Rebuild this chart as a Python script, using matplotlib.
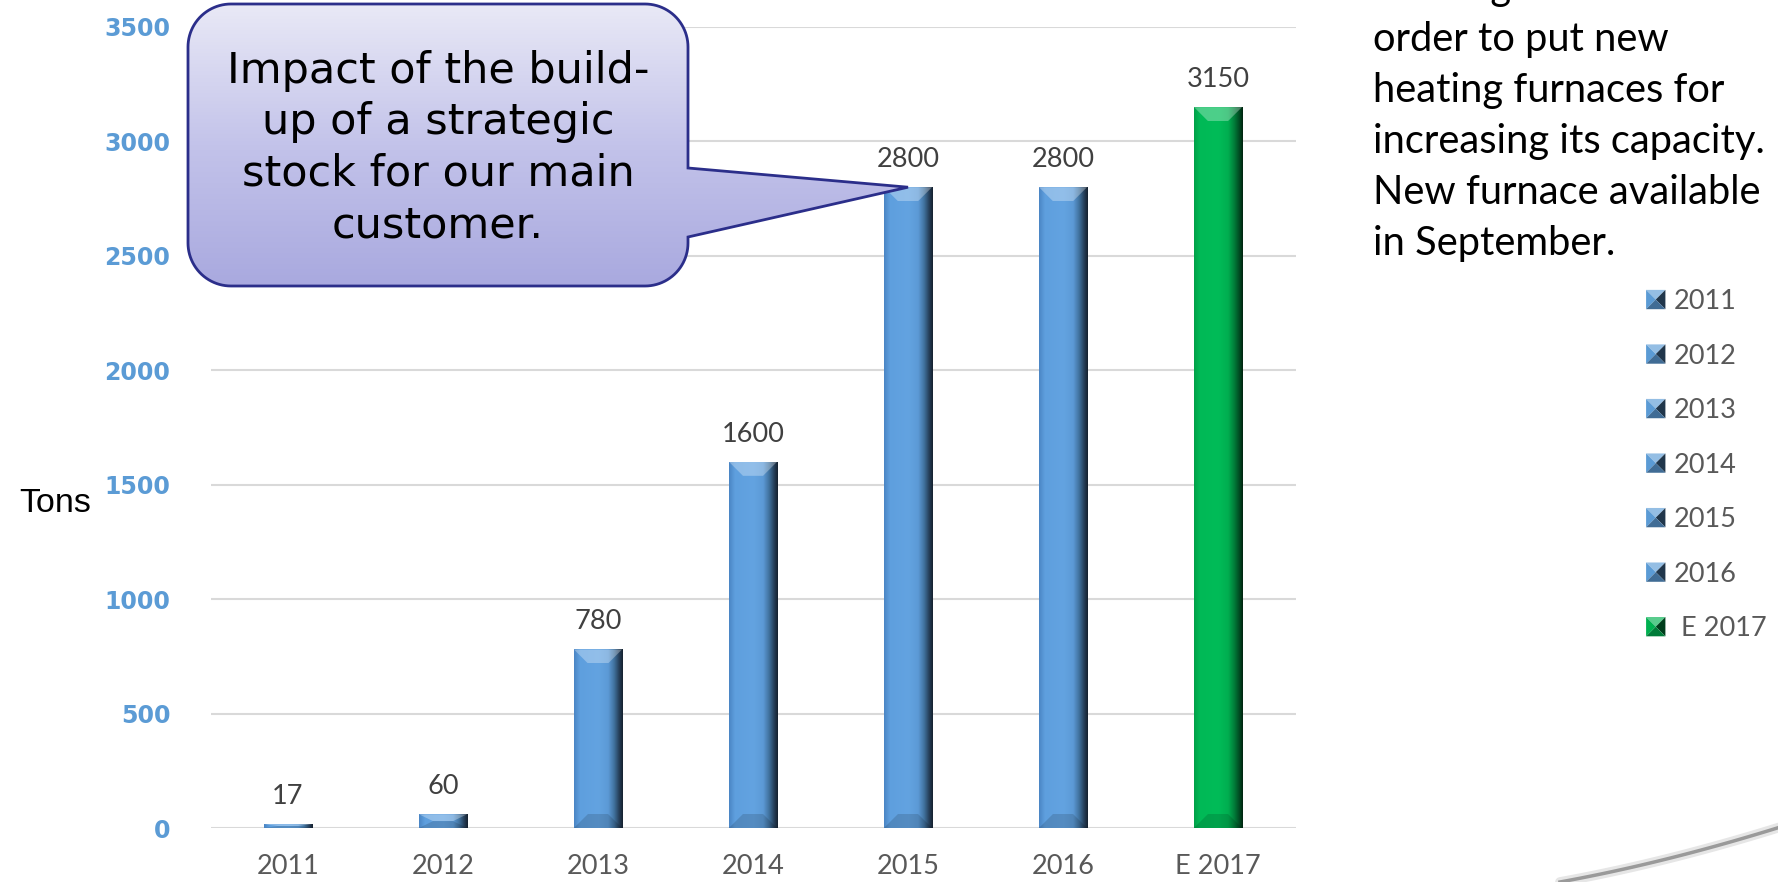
import numpy as np
import matplotlib
matplotlib.use('Agg')
import matplotlib.pyplot as plt
from matplotlib.colors import LinearSegmentedColormap, to_rgb
from matplotlib.patches import Polygon, PathPatch, Patch
from matplotlib.path import Path
from matplotlib.legend_handler import HandlerBase

# Data
years = ['2011', '2012', '2013', '2014', '2015', '2016', 'E 2017']
tons = [17, 60, 780, 1600, 2800, 2800, 3150]
y_ticks = [0, 500, 1000, 1500, 2000, 2500, 3000, 3500]
callout_lines = ['Impact of the build-', 'up of a strategic',
                 'stock for our main', 'customer.']
note_lines = ['building a site in', 'order to put new', 'heating furnaces for',
              'increasing its capacity.', 'New furnace available', 'in September.']
callout_bar = 4  # bar the callout points at

W, H = 1778, 882
BLUE_STOPS = ['#4A85C4', '#5E9FDE', '#63A3E1', '#5C9AD6', '#41729F', '#243C55', '#16212E']
GREEN_STOPS = ['#00A048', '#00B956', '#00BC58', '#00AE50', '#007F3A', '#004A22', '#00230F']
STOP_POS = [0.0, 0.12, 0.5, 0.7, 0.82, 0.93, 1.0]


def make_cmap(stops, factor=1.0, lighten=0.0):
    cols = []
    for c in stops:
        r = np.array(to_rgb(c)) * factor
        r = r + (1 - r) * lighten
        cols.append(np.clip(r, 0, 1))
    return LinearSegmentedColormap.from_list('g', list(zip(STOP_POS, cols)))


def hgrad(cmap):
    return cmap(np.linspace(0, 1, 256))[None, :, :3]


fig = plt.figure(figsize=(W / 100, H / 100), dpi=100)
fig.patch.set_facecolor('white')
ax = fig.add_axes([210.5 / W, (H - 828) / H, 1085 / W, 801 / H])

x = np.arange(len(years))
is_est = [y.startswith('E') for y in years]
base_cols = ['#00B050' if e else '#5B9BD5' for e in is_est]
bars = ax.bar(x, tons, width=0.31, color=base_cols, zorder=2)

# bevelled bar look
px_x = 1 / 155.0
px_y = 3500 / 801.0
for b, e in zip(bars, is_est):
    stops = GREEN_STOPS if e else BLUE_STOPS
    x0, w, h = b.get_x(), b.get_width(), b.get_height()
    im = ax.imshow(hgrad(make_cmap(stops)), extent=(x0, x0 + w, 0, h),
                   aspect='auto', zorder=3, interpolation='bilinear')
    im.set_clip_path(b)
    bx = 14 * px_x
    by = min(14 * px_y, h * 0.5)
    top = Polygon([(x0, h), (x0 + w, h), (x0 + w - bx, h - by), (x0 + bx, h - by)],
                  closed=True, facecolor='none', edgecolor='none')
    ax.add_patch(top)
    im2 = ax.imshow(hgrad(make_cmap(stops, lighten=0.3)), extent=(x0, x0 + w, h - by, h),
                    aspect='auto', zorder=4, interpolation='bilinear')
    im2.set_clip_path(top)
    bot = Polygon([(x0, 0), (x0 + w, 0), (x0 + w - bx, by), (x0 + bx, by)],
                  closed=True, facecolor='none', edgecolor='none')
    ax.add_patch(bot)
    im3 = ax.imshow(hgrad(make_cmap(stops, factor=0.86)), extent=(x0, x0 + w, 0, by),
                    aspect='auto', zorder=4, interpolation='bilinear')
    im3.set_clip_path(bot)

for xi, v in zip(x, tons):
    ax.annotate(str(v), (xi, v), xytext=(0, 11), textcoords='offset points',
                ha='center', va='bottom', fontsize=19.5, family='Lato', color='#404040')

ax.set_xlim(-0.5, len(years) - 0.5)
ax.set_ylim(0, 3500)
ax.set_yticks(y_ticks)
ax.set_xticks(x)
ax.set_xticklabels(years, fontsize=19.5, family='Lato', color='#595959')
ax.tick_params(axis='x', length=0, pad=19)
ax.tick_params(axis='y', length=0, pad=29, labelsize=17, labelcolor='#5B9BD5')
for lab in ax.get_yticklabels():
    lab.set_fontweight('bold')
ax.grid(axis='y', color='#D9D9D9', linewidth=1.5, zorder=0)
ax.set_axisbelow(True)
for s in ax.spines.values():
    s.set_visible(False)
ax.patch.set_alpha(0)

fig.text(55 / W, 1 - 503 / H, 'Tons', ha='center', va='center', fontsize=24.5,
         family='Liberation Sans', color='black')


# legend with bevelled square keys
class BevelSquare(HandlerBase):
    def create_artists(self, legend, orig_handle, xdescent, ydescent,
                       width, height, fontsize, trans):
        c = np.array(to_rgb(orig_handle.get_facecolor()))
        s = min(width, height)
        x0, y0 = -xdescent + (width - s) / 2, -ydescent + (height - s) / 2
        cx, cy = x0 + s / 2, y0 + s / 2
        ll, lr, ur, ul = (x0, y0), (x0 + s, y0), (x0 + s, y0 + s), (x0, y0 + s)
        light = c + (1 - c) * 0.35
        shades = [(ul, ur, light), (ll, ul, c), (lr, ur, c * 0.35), (ll, lr, c * 0.7)]
        arts = []
        for p, q, col in shades:
            arts.append(Polygon([p, q, (cx, cy)], closed=True, facecolor=col,
                                edgecolor='none', transform=trans))
        return arts


handles = [Patch(facecolor=c) for c in base_cols]
leg_labels = [(' ' + y) if e else y for y, e in zip(years, is_est)]
fig.legend(handles, leg_labels, loc='upper left', bbox_to_anchor=(1646 / W, 1 - 289 / H),
           frameon=False, handlelength=0.72, handleheight=0.72, handletextpad=0.3,
           labelspacing=1.09, borderpad=0, borderaxespad=0,
           prop={'family': 'Lato', 'size': 19.5}, labelcolor='#595959',
           handler_map={Patch: BevelSquare()})

# overlay in pixel coordinates for the annotations
ov = fig.add_axes([0, 0, 1, 1])
ov.set_xlim(0, W)
ov.set_ylim(H, 0)
ov.axis('off')
ov.set_zorder(5)
ov.patch.set_alpha(0)

tip = ov.transData.inverted().transform(
    ax.transData.transform((x[callout_bar], tons[callout_bar])))


def callout_path(x0, y0, x1, y1, r, ta, tb, tip):
    pts = []

    def arc(cx, cy, a0, a1):
        t = np.radians(np.linspace(a0, a1, 24))
        return list(zip(cx + r * np.cos(t), cy + r * np.sin(t)))

    pts += arc(x1 - r, y0 + r, -90, 0)
    pts += [(x1, ta), tuple(tip), (x1, tb)]
    pts += arc(x1 - r, y1 - r, 0, 90)
    pts += arc(x0 + r, y1 - r, 90, 180)
    pts += arc(x0 + r, y0 + r, 180, 270)
    pts.append(pts[0])
    codes = [Path.MOVETO] + [Path.LINETO] * (len(pts) - 2) + [Path.CLOSEPOLY]
    return Path(pts, codes)


bx0, by0, bx1, by1 = 188, 4, 688, 286
cpath = callout_path(bx0, by0, bx1, by1, 43, 168, 237, tip)
shape = PathPatch(cpath, facecolor='none', edgecolor='#2B2E8A', linewidth=2, zorder=7)
ov.add_patch(shape)
vgrad = LinearSegmentedColormap.from_list('c', ['#E9E9F6', '#C3C3EA', '#A9A9DF'])
gim = ov.imshow(vgrad(np.linspace(0, 1, 256))[:, None, :3],
                extent=(bx0, tip[0] + 2, by1, by0), aspect='auto', zorder=6,
                interpolation='bilinear')
gim.set_clip_path(shape)
for i, line in enumerate(callout_lines):
    ov.text(438, 83 + 51.4 * i, line, ha='center', va='baseline', fontsize=31,
            family='DejaVu Sans', color='black', zorder=8)

for i, line in enumerate(note_lines):
    ov.text(1373, 0 + 51 * i, line, ha='left', va='baseline', fontsize=28.7,
            family='Lato', color='black')

# decorative swoosh bottom right
t = np.linspace(0, 1, 60)
p0, p1, p2 = np.array([1560, 882]), np.array([1670, 862]), np.array([1790, 824])
curve = ((1 - t) ** 2)[:, None] * p0 + (2 * (1 - t) * t)[:, None] * p1 + (t ** 2)[:, None] * p2
ov.plot(curve[:, 0], curve[:, 1], color='#E6E6E6', linewidth=7, solid_capstyle='round')
ov.plot(curve[:, 0], curve[:, 1], color='#9A9A9A', linewidth=2.5)

ov.set_xlim(0, W)
ov.set_ylim(H, 0)
fig.savefig('out.png', dpi=100, facecolor='white')
